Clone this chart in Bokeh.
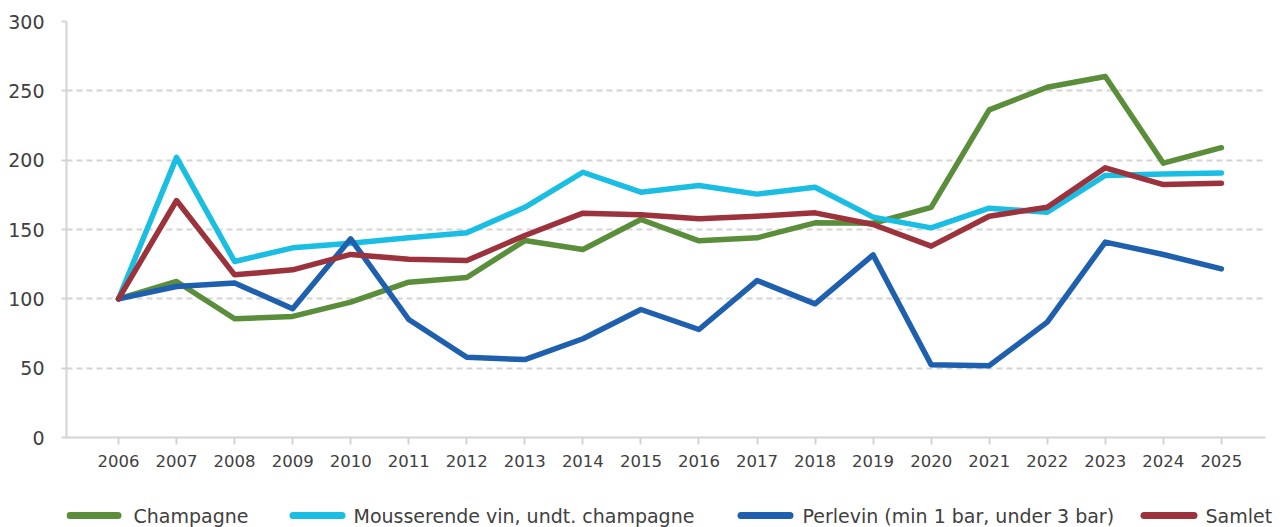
from bokeh.plotting import figure
from bokeh.models import Range1d, FixedTicker
from bokeh.core.properties import value
from bokeh.layouts import column
from bokeh.embed import file_html
from bokeh.resources import INLINE

years = list(range(2006, 2026))
champagne = [100, 112.5, 85.6, 87.3, 97.6, 112, 115.4, 142, 135.6, 157.2,
             141.8, 144, 154.8, 154.5, 166, 236.3, 252.6, 260.3, 197.8, 209]
mousserende = [100, 202, 126.9, 136.8, 140.1, 144, 147.6, 166, 191.3, 176.9,
               181.7, 175.5, 180.5, 158.9, 151.2, 165.4, 162.5, 189, 190.1, 190.8]
perlevin = [100, 108.9, 111.5, 92.8, 143.3, 85.1, 57.9, 56.2, 71.2, 92.3,
            77.9, 113.2, 96.4, 131.7, 52.4, 51.8, 83.2, 140.9, 132, 121.6]
samlet = [100, 170.9, 117.3, 120.9, 132, 128.6, 127.6, 145.7, 161.8, 160.6,
          157.7, 159.6, 162, 153.6, 138, 159.6, 166, 194.5, 182.4, 183.4]

labels = ["Champagne", "Mousserende vin, undt. champagne",
          "Perlevin (min 1 bar, under 3 bar)", "Samlet"]
colors = ["#5B8E3B", "#1ABEE3", "#1E5FAE", "#9C333C"]
y_ticks = [0, 50, 100, 150, 200, 250, 300]

FONT = "DejaVu Sans"
TEXT = "#404040"
GRID = "#d4d4d4"

W = 1271
H_MAIN = 483
H_LEG = 44
BL, BR = 66, 6

p = figure(width=W, height=H_MAIN, output_backend="svg", toolbar_location=None,
           x_range=Range1d(2005.104, 2025.76), y_range=Range1d(0, 300),
           min_border_left=BL, min_border_right=BR, min_border_top=21,
           min_border_bottom=H_MAIN - 437)
p.outline_line_color = None

for ys, c in zip([champagne, mousserende, perlevin, samlet], colors):
    p.line(years, ys, line_color=c, line_width=5.5, line_join="round", line_cap="round")

p.xaxis.ticker = FixedTicker(ticks=years)
p.yaxis.ticker = FixedTicker(ticks=y_ticks)
for ax in (p.xaxis, p.yaxis):
    ax.axis_line_color = GRID
    ax.axis_line_width = 2
    ax.major_tick_line_color = GRID
    ax.major_tick_line_width = 2
    ax.major_tick_in = 0
    ax.minor_tick_line_color = None
    ax.major_label_text_font = FONT
    ax.major_label_text_color = TEXT
p.xaxis.major_tick_out = 7
p.yaxis.major_tick_out = 5
p.xaxis.major_label_text_font_size = "16.5px"
p.yaxis.major_label_text_font_size = "19px"
p.xaxis.major_label_standoff = 10
p.yaxis.major_label_standoff = 17

p.xgrid.grid_line_color = None
p.ygrid.grid_line_color = GRID
p.ygrid.grid_line_width = 2
p.ygrid.grid_line_dash = "6 4"

# legend drawn in a strip below the chart; x data units equal page pixels
WL = 1287
leg = figure(width=WL, height=H_LEG, output_backend="svg", toolbar_location=None,
             x_range=Range1d(BL, WL - BR), y_range=Range1d(0, H_LEG),
             min_border_left=BL, min_border_right=BR, min_border_top=0,
             min_border_bottom=0, x_axis_location=None, y_axis_location=None)
leg.outline_line_color = None
leg.xgrid.grid_line_color = None
leg.ygrid.grid_line_color = None
leg_line_x0 = [66, 289, 737, 1140]
leg_line_x1 = [121, 345, 793, 1197]
leg_text_x = [133, 353, 802, 1205]
yc = [12] * 4
leg.segment(x0=[v + 3.5 for v in leg_line_x0], x1=[v - 3.5 for v in leg_line_x1],
            y0=yc, y1=yc, line_color=colors, line_width=7, line_cap="round")
leg.text(x=leg_text_x, y=yc, text=labels, text_font_size=value("19px"),
         text_color=TEXT, text_baseline="middle", text_align="left",
         text_font=value(FONT))

layout = column(p, leg, spacing=0)
open("out.html", "w").write(file_html(layout, INLINE))
